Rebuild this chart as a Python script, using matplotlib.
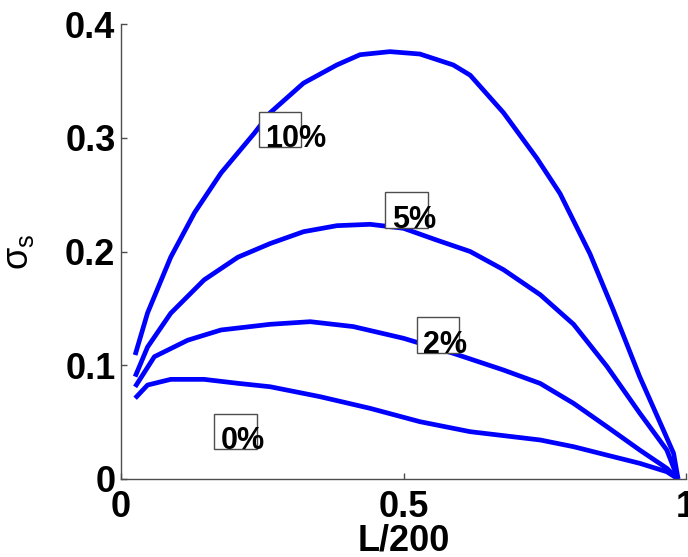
import matplotlib
matplotlib.use("Agg")
import matplotlib.pyplot as plt
from matplotlib.patches import Rectangle

plt.rcParams['font.family'] = ['Liberation Sans', 'DejaVu Sans']
plt.rcParams['mathtext.fontset'] = 'custom'
plt.rcParams['mathtext.rm'] = 'Liberation Sans'
plt.rcParams['mathtext.it'] = 'Liberation Sans'
plt.rcParams['mathtext.default'] = 'regular'

# ---- data ----
x_10 = [0.025, 0.047, 0.088, 0.130, 0.177, 0.236, 0.264, 0.323, 0.382, 0.423,
        0.476, 0.529, 0.588, 0.618, 0.677, 0.736, 0.777, 0.830, 0.871, 0.918,
        0.960, 0.978, 0.986]
y_10 = [0.109, 0.146, 0.195, 0.234, 0.269, 0.304, 0.322, 0.348, 0.364, 0.373,
        0.3757, 0.3736, 0.364, 0.355, 0.322, 0.282, 0.251, 0.198, 0.149, 0.090,
        0.043, 0.0226, 0.0]

x_5 = [0.025, 0.047, 0.088, 0.147, 0.207, 0.264, 0.323, 0.382, 0.441, 0.5,
       0.559, 0.618, 0.677, 0.742, 0.801, 0.860, 0.918, 0.966, 0.986]
y_5 = [0.090, 0.116, 0.1457, 0.175, 0.195, 0.207, 0.2174, 0.2227, 0.2239, 0.2204,
       0.210, 0.200, 0.184, 0.162, 0.136, 0.099, 0.058, 0.0255, 0.0]

x_2 = [0.025, 0.059, 0.118, 0.177, 0.264, 0.335, 0.411, 0.5, 0.588, 0.677,
       0.742, 0.801, 0.860, 0.918, 0.966, 0.986]
y_2 = [0.081, 0.1075, 0.122, 0.131, 0.136, 0.1383, 0.134, 0.1237, 0.1105, 0.0958,
       0.084, 0.0665, 0.046, 0.0255, 0.0094, 0.0]

x_0 = [0.025, 0.047, 0.088, 0.147, 0.207, 0.264, 0.352, 0.441, 0.529, 0.618,
       0.742, 0.801, 0.860, 0.918, 0.966, 0.986]
y_0 = [0.071, 0.0826, 0.0876, 0.0876, 0.0841, 0.0811, 0.0724, 0.0621, 0.0504, 0.0416,
       0.0343, 0.0284, 0.021, 0.0138, 0.0064, 0.0]

series = [(x_10, y_10), (x_5, y_5), (x_2, y_2), (x_0, y_0)]

labels = ['10%', '5%', '2%', '0%']
label_x = [0.244, 0.468, 0.524, 0.165]
label_y = [0.292, 0.221, 0.111, 0.026]
box_w = 0.075
box_h = 0.031

xticks = [0, 0.5, 1]
xticklabels = ['0', '0.5', '1']
yticks = [0, 0.1, 0.2, 0.3, 0.4]
yticklabels = ['0', '0.1', '0.2', '0.3', '0.4']

# ---- figure ----
fig = plt.figure(figsize=(6.88, 5.57), dpi=100)
ax = fig.add_axes([121/688, 78/557, 565/688, 455/557])

for xs, ys in series:
    ax.plot(xs, ys, color='#0000ff', lw=3.4, solid_capstyle='butt',
            solid_joinstyle='round', zorder=2)

for lab, lx, ly in zip(labels, label_x, label_y):
    ax.add_patch(Rectangle((lx, ly), box_w, box_h, facecolor='white',
                           edgecolor='#4d4d4d', lw=1.0, zorder=3))
    ax.text(lx + 0.011, ly, lab, fontsize=22, fontweight='bold',
            ha='left', va='baseline', zorder=4)

ax.set_xlim(0, 1)
ax.set_ylim(0, 0.4)
ax.set_xticks(xticks)
ax.set_xticklabels(xticklabels)
ax.set_yticks(yticks)
ax.set_yticklabels(yticklabels)

for sp in ['top', 'right']:
    ax.spines[sp].set_visible(False)
for sp in ['left', 'bottom']:
    ax.spines[sp].set_color('#4d4d4d')
    ax.spines[sp].set_linewidth(1.0)

ax.tick_params(direction='in', length=4.5, width=1.0, color='#4d4d4d',
               labelsize=26)
ax.tick_params(axis='x', pad=8)
ax.tick_params(axis='y', pad=4)
for t in ax.get_xticklabels() + ax.get_yticklabels():
    t.set_fontweight('bold')

ax.set_xlabel('L/200', fontsize=26, fontweight='bold', labelpad=-1)
ax.set_ylabel(r'$\sigma_s$', fontsize=26)
ax.yaxis.set_label_coords(-0.15, 0.5)

fig.savefig('out.png', dpi=100)
